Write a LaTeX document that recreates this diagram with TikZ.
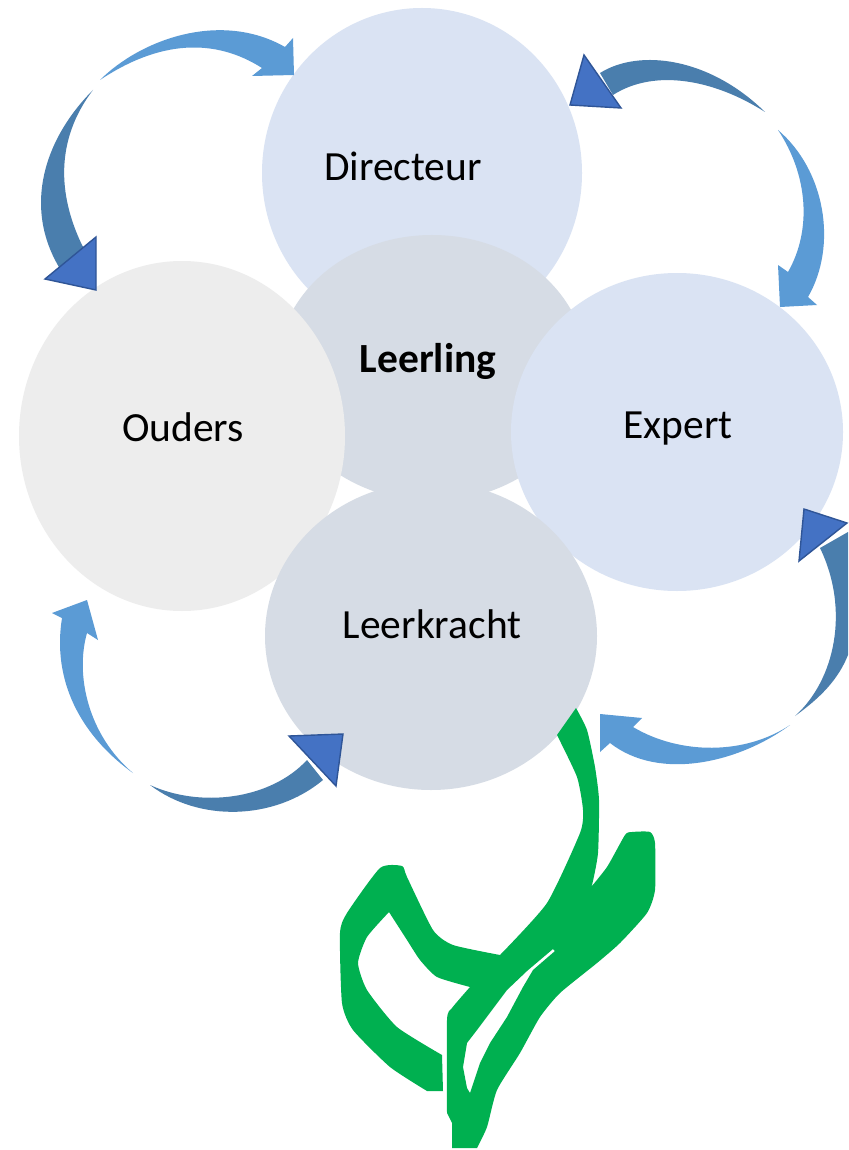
\documentclass[tikz,border=0pt]{standalone}
\usepackage{fontspec}
\setmainfont{Carlito}
\usetikzlibrary{shapes.geometric}
\definecolor{lightblue}{HTML}{5B9BD5}
\definecolor{steel}{HTML}{4A7EAD}
\definecolor{headblue}{HTML}{4472C4}
\definecolor{headedge}{HTML}{2F5597}
\definecolor{dirfill}{HTML}{DAE3F3}
\definecolor{kidfill}{HTML}{D6DCE5}
\definecolor{parfill}{HTML}{EDEDED}
\definecolor{stemgreen}{HTML}{00B050}
\tikzset{
  petal/.style={ellipse,draw=none,inner sep=0pt,outer sep=0pt},
  lbl/.style={font=\fontsize{41.5}{48}\selectfont,text=black,inner sep=0pt,anchor=base},
  bodylight/.style={fill=lightblue,draw=none},
  bodydark/.style={fill=steel,draw=none},
  headtri/.style={fill=headblue,draw=headedge,line width=1.4pt,line join=miter},
}
\begin{document}
\begin{tikzpicture}[x=1pt,y=-1pt]
\path[fill=white,use as bounding box] (0,0) rectangle (848,1150);
% petals
\node[petal,fill=dirfill,minimum width=320pt,minimum height=330pt] (dir) at (422,173) {};
\node[petal,fill=kidfill,minimum width=309pt,minimum height=266pt] (kid) at (432,368) {};
\node[petal,fill=parfill,minimum width=326pt,minimum height=350pt] (par) at (182,436) {};
\node[petal,fill=dirfill,minimum width=332pt,minimum height=318pt] (exp) at (677,432) {};
\node[petal,fill=kidfill,minimum width=332pt,minimum height=308pt] (tea) at (431,636) {};
\node[lbl] (tdir) at (403,181) {Directeur};
\node[lbl,font=\fontsize{41.5}{48}\selectfont\bfseries] (tkid) at (428,372) {Leerling};
\node[lbl] (tpar) at (183,441) {Ouders};
\node[lbl] (texp) at (678,438) {Expert};
\node[lbl] (ttea) at (432,638) {Leerkracht};
% top left, light
\fill[bodylight] (100,80) .. controls (140,40) and (220,10) .. (285,47)
  -- (293,38) -- (294,75) -- (252,76) -- (262,68)
  .. controls (215,38) and (160,40) .. (100,80) -- cycle;
% left, dark
\fill[bodydark] (93,90) .. controls (43,140) and (22,210) .. (62,272)
  -- (85,250) -- (82,245)
  .. controls (58,195) and (55,140) .. (93,90) -- cycle;
\draw[headtri] (96,237) -- (96,290) -- (45,279) -- cycle;
% top right, dark
\fill[bodydark] (600,73) .. controls (640,48) and (710,58) .. (765,112)
  .. controls (715,80) and (655,68) .. (613,95) -- cycle;
\draw[headtri] (584,55) -- (570,105) -- (621,108) -- cycle;
% right, light
\fill[bodylight] (778,130) .. controls (825,170) and (838,245) .. (808,297)
  -- (817,305) -- (780,307) -- (778,265) -- (788,272)
  .. controls (812,230) and (808,175) .. (778,130) -- cycle;
% lower right, dark
\fill[bodydark] (848,532) -- (848,655)
  .. controls (838,680) and (820,698) .. (795,716)
  .. controls (835,680) and (850,610) .. (820,548) -- cycle;
\draw[headtri] (804,509) -- (847,523) -- (799,561) -- cycle;
% bottom right, light
\fill[bodylight] (790,725) .. controls (740,762) and (660,782) .. (610,743)
  -- (600,752) -- (600,714) -- (642,718) -- (633,727)
  .. controls (680,755) and (745,755) .. (790,725) -- cycle;
% bottom left, light
\fill[bodylight] (133,773) .. controls (80,735) and (52,680) .. (62,618)
  -- (52,613) -- (87,600) -- (98,640) -- (87,633)
  .. controls (75,675) and (88,735) .. (133,773) -- cycle;
% bottom, dark
\fill[bodydark] (150,785) .. controls (200,823) and (275,820) .. (323,780)
  -- (307,760)
  .. controls (270,800) and (200,808) .. (150,785) -- cycle;
\draw[headtri] (289,736) -- (343,734) -- (336,786) -- cycle;
% stem and leaves
\fill[stemgreen,even odd rule,line join=round]
  (576,708) -- plot[smooth,tension=.35] coordinates {(576,708) (587,730) (595,767) (599,800) (598,853) (592,885) (587,892)}
  -- plot[smooth,tension=.35] coordinates {(587,892) (607,867) (625,835) (632,832) (650,832) (655,843) (655,890) (647,913) (620,943) (597,963) (560,993) (540,1017) (520,1053) (497,1090) (487,1127) (477,1148)}
  -- (452,1148) -- (452,1123) -- (447,1113)
  -- plot[smooth,tension=.35] coordinates {(447,1113) (447,1020) (452,1008) (470,987)}
  -- plot[smooth,tension=.35] coordinates {(470,987) (437,977) (420,960) (407,940) (389,912)}
  -- plot[smooth,tension=.35] coordinates {(389,912) (367,937) (358,963) (367,990) (397,1027) (442,1055)}
  -- (443,1091) -- (427,1091)
  -- plot[smooth,tension=.35] coordinates {(427,1091) (390,1067) (353,1030) (342,1003) (340,933) (347,913) (380,868) (402,866) (407,877) (433,930) (453,945) (500,955)}
  -- plot[smooth,tension=.35] coordinates {(500,955) (547,903) (580,833) (583,810) (577,777) (557,735)} -- cycle
  (553,949) -- (527,971) -- (507,990) -- (477,1030) -- (467,1043) -- (463,1067) -- (467,1088) -- (470,1093)
  -- (480,1063) -- (490,1043) -- (507,1017) -- (523,987) -- (533,970) -- (555,951) -- cycle;
\end{tikzpicture}
\end{document}
